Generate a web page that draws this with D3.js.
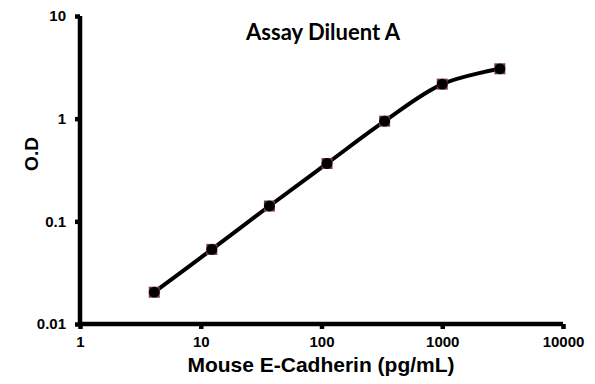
<!DOCTYPE html>
<html>
<head>
<meta charset="utf-8">
<script src="https://cdn.jsdelivr.net/npm/d3@7"></script>
<style>
  body { margin: 0; background: #fff; }
  svg { display: block; }
</style>
</head>
<body>
<div id="chart"></div>
<script>
// standard curve readings
const conc = [4.12, 12.35, 37.04, 111.1, 333.3, 1000, 3000];
const od = [0.0204, 0.0533, 0.141, 0.366, 0.946, 2.17, 3.06];
const xTickValues = [1, 10, 100, 1000, 10000];
const yTickValues = [0.01, 0.1, 1, 10];

const width = 595, height = 384;
const margin = {top: 16, right: 32, bottom: 60, left: 80};
const w = width - margin.left - margin.right;
const h = height - margin.top - margin.bottom;
const arial = 'Arial, "Liberation Sans", sans-serif';

const svg = d3.select('#chart').append('svg')
  .attr('width', width)
  .attr('height', height);

const g = svg.append('g')
  .attr('transform', 'translate(' + margin.left + ',' + margin.top + ')');

const x = d3.scaleLog().domain([1, 10000]).range([0, w]);
const y = d3.scaleLog().domain([0.01, 10]).range([h, 0]);

// Axes
const xAxis = d3.axisBottom(x).tickValues(xTickValues).tickSize(5).tickPadding(7)
  .tickFormat(d3.format('d'));
const yAxis = d3.axisLeft(y).tickValues(yTickValues).tickSize(5).tickPadding(9)
  .tickFormat((d) => String(d));

const gx = g.append('g').attr('class', 'x axis')
  .attr('transform', 'translate(0,' + h + ')')
  .call(xAxis);
const gy = g.append('g').attr('class', 'y axis').call(yAxis);

[gx, gy].forEach((a) => {
  a.select('.domain')
    .style('stroke', '#000').style('stroke-width', '4.5px').style('fill', 'none');
  a.selectAll('.tick line')
    .style('stroke', '#000').style('stroke-width', '4.5px');
  a.selectAll('.tick text')
    .style('font-family', arial).style('font-weight', 'bold')
    .style('font-size', '15px').style('fill', '#000');
});
gy.select('.domain').attr('d', 'M0,0V' + h);
gx.select('.domain').attr('d', 'M0,0H' + w);

// Curve
const pts = conc.map((c, i) => ({c: c, v: od[i]}));
const line = d3.line()
  .x((d) => x(d.c))
  .y((d) => y(d.v))
  .curve(d3.curveCatmullRom.alpha(0.5));

g.append('path')
  .datum(pts)
  .style('fill', 'none')
  .style('stroke', '#000')
  .style('stroke-width', '4px')
  .attr('d', line);

// Markers: maroon square under black dot
const m = g.selectAll('.marker').data(pts).enter().append('g').attr('class', 'marker');
m.append('rect')
  .attr('x', (d) => x(d.c) - 5.5)
  .attr('y', (d) => y(d.v) - 5.5)
  .attr('width', 11)
  .attr('height', 11)
  .style('fill', '#7b3b42');
m.append('circle')
  .attr('cx', (d) => x(d.c))
  .attr('cy', (d) => y(d.v))
  .attr('r', 5.4)
  .style('fill', '#000');

// Titles
svg.append('text')
  .attr('x', 323).attr('y', 40)
  .attr('text-anchor', 'middle')
  .style('font-family', 'Lato, "Open Sans", sans-serif')
  .style('font-weight', 'bold').style('font-size', '22px')
  .text('Assay Diluent A');

svg.append('text')
  .attr('x', 321).attr('y', 372)
  .attr('text-anchor', 'middle')
  .style('font-family', arial)
  .style('font-weight', 'bold').style('font-size', '21px')
  .text('Mouse E-Cadherin (pg/mL)');

svg.append('text')
  .attr('transform', 'translate(38,154) rotate(-90)')
  .attr('text-anchor', 'middle')
  .style('font-family', arial)
  .style('font-weight', 'bold').style('font-size', '19px')
  .text('O.D');
</script>
</body>
</html>
